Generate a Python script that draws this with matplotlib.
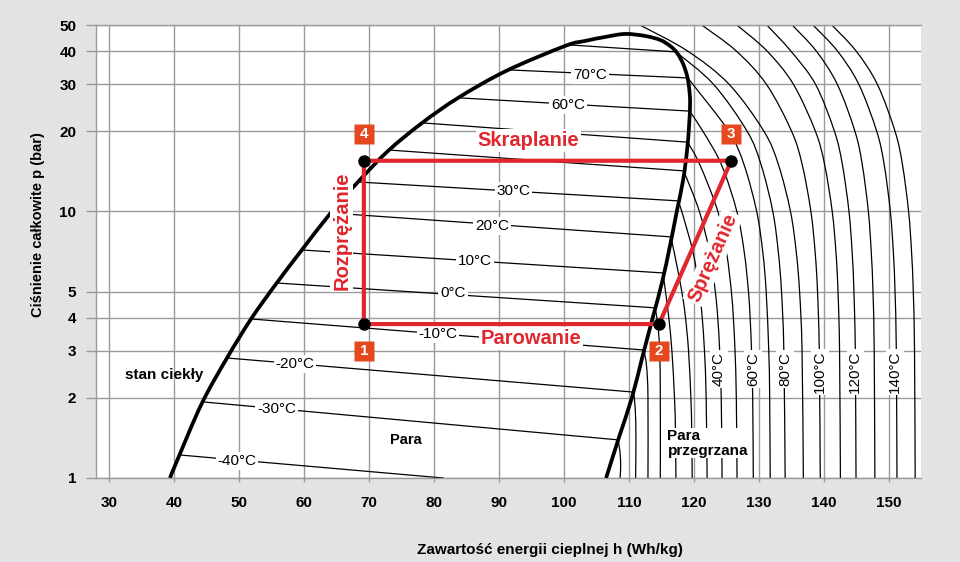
import numpy as np
import matplotlib.pyplot as plt
from matplotlib.path import Path
from matplotlib.patches import PathPatch
from matplotlib.transforms import offset_copy

plt.rcParams['font.family'] = ['Liberation Sans', 'DejaVu Sans']

# saturation dome, h in Wh/kg, p in bar
liquid_h = [39.38, 40.77, 44.31, 48.15, 51.85, 55.69, 59.54, 63.85, 68.15, 72.92, 78.15, 83.69,
            91.08, 100.15, 103.23, 106.31, 109.38]
liquid_p = [1.0, 1.209, 1.912, 2.82, 3.951, 5.346, 7.107, 9.703, 12.79, 16.87, 21.48, 26.67,
            33.67, 41.78, 43.63, 45.16, 46.35]
vapour_h = [112.46, 114.77, 116.31, 117.38, 118.31, 118.92, 119.23, 119.38, 119.23, 118.92,
            118.31, 117.38, 116.31, 115.08, 113.54, 112.0, 110.46, 108.46, 106.46]
vapour_p = [45.55, 44.01, 41.78, 39.33, 35.77, 32.24, 29.07, 25.53, 21.12, 17.01,
            13.13, 10.13, 7.486, 5.438, 3.917, 2.82, 2.013, 1.425, 1.0]

# isotherms inside the dome (liquid side -> vapour side)
wet_temps = [-40, -30, -20, -10, 0, 10, 20, 30, 40, 50, 60, 70, 80]
wet_h0 = [40.85, 44.4, 48.15, 51.85, 55.8, 59.65, 64.15, 68.3, 73.1, 78.15, 83.7, 91.2, 100.6]
wet_p0 = [1.22, 1.93, 2.82, 3.95, 5.39, 7.17, 9.87, 12.9, 17.0, 21.5, 26.7, 34.0, 42.2]
wet_h1 = [81.4, 108.3, 110.7, 112.3, 113.97, 115.2, 116.4, 117.5, 118.4, 119.0, 119.3, 119.0, 117.2]
wet_p1 = [1.0, 1.39, 2.10, 3.02, 4.35, 5.88, 8.03, 10.96, 14.2, 18.2, 23.8, 31.7, 39.7]

# superheated isotherms (h, p)
sh_m30 = [(108.3, 1.39), (108.6, 1.25), (108.7, 1.1), (108.6, 1.0)]
sh_m20 = [(110.7, 2.1), (110.95, 1.8), (111.05, 1.4), (111.0, 1.0)]
sh_m10 = [(112.3, 3.02), (112.7, 2.6), (112.9, 2.0), (112.9, 1.0)]
sh_0 = [(113.97, 4.35), (114.4, 3.8), (114.7, 3.0), (114.8, 2.0), (114.8, 1.0)]
sh_10 = [(115.2, 5.88), (115.6, 5), (116.1, 4), (116.58, 3), (116.98, 2), (117.13, 1.5), (117.2, 1)]
sh_20 = [(116.4, 8.03), (116.95, 7), (118.11, 5), (118.67, 4), (119.14, 3), (119.5, 2), (119.63, 1.5), (119.7, 1)]
sh_30 = [(117.5, 10.96), (118.1, 10), (119.85, 7), (120.83, 5), (121.24, 4), (121.59, 3), (121.85, 2), (122.0, 1)]
sh_40 = [(118.4, 14.2), (120.81, 10), (122.4, 7), (123.26, 5), (123.63, 4), (123.93, 3), (124.17, 2), (124.3, 1)]
sh_50 = [(119.0, 18.2), (120.87, 15), (123.65, 10), (124.99, 7), (125.73, 5), (126.03, 4), (126.29, 3), (126.49, 2), (126.6, 1)]
sh_60 = [(119.3, 23.8), (121.35, 20), (124.19, 15), (126.57, 10), (127.72, 7), (128.36, 5), (128.61, 4), (128.83, 3), (129.01, 2), (129.1, 1)]
sh_70 = [(119.0, 31.7), (119.8, 30), (125.32, 20), (127.67, 15), (129.62, 10), (130.57, 7), (131.08, 5), (131.48, 3), (131.62, 2), (131.7, 1)]
sh_80 = [(117.2, 39.7), (122.98, 30), (128.15, 20), (130.29, 15), (132.1, 10), (132.96, 7), (133.44, 5), (133.8, 3), (134.0, 1)]
sh_90 = [(111.7, 50), (118.98, 40), (125.38, 30), (130.73, 20), (132.96, 15), (134.82, 10), (135.72, 7), (136.22, 5), (136.6, 3), (136.8, 1)]
sh_100 = [(121.2, 50), (126.48, 40), (131.12, 30), (134.99, 20), (136.62, 15), (137.96, 10), (138.62, 7), (138.98, 5), (139.25, 3), (139.4, 1)]
sh_110 = [(126.6, 50), (131.21, 40), (135.27, 30), (138.65, 20), (140.07, 15), (141.24, 10), (141.82, 7), (142.13, 5), (142.37, 3), (142.5, 1)]
sh_120 = [(131.2, 50), (134.87, 40), (138.67, 30), (141.58, 20), (142.8, 15), (143.82, 10), (144.31, 7), (144.58, 5), (144.79, 3), (144.9, 1)]
sh_130 = [(135.1, 50), (138.78, 40), (142.02, 30), (144.73, 20), (145.86, 15), (146.8, 10), (147.25, 7), (147.51, 5), (147.7, 3), (147.8, 1)]
sh_140 = [(138.3, 50), (142.04, 40), (145.33, 30), (148.08, 20), (149.23, 15), (150.18, 10), (150.65, 7), (150.9, 5), (151.1, 3), (151.2, 1)]
sh_150 = [(141.2, 50), (144.91, 40), (148.18, 30), (150.9, 20), (152.04, 15), (152.99, 10), (153.45, 7), (153.71, 5), (153.9, 3), (154.0, 1)]
superheated = [sh_m30, sh_m20, sh_m10, sh_0, sh_10, sh_20, sh_30, sh_40, sh_50,
               sh_60, sh_70, sh_80, sh_90, sh_100, sh_110, sh_120, sh_130, sh_140, sh_150]

# refrigeration cycle 1-2-3-4
cycle_h = [69.2, 114.6, 125.7, 69.2]
cycle_p = [3.78, 3.78, 15.5, 15.5]
cycle_names = ['1', '2', '3', '4']

x_ticks = [30, 40, 50, 60, 70, 80, 90, 100, 110, 120, 130, 140, 150]
y_ticks = [1, 2, 3, 4, 5, 10, 20, 30, 40, 50]

RED = '#e1262d'
BOX = '#e5471f'
GRID = '#9a9a9a'


def smooth_curve(ax, hs, ps, **kw):
    # draw a smooth curve through the read points (Bezier segments, log-p space)
    x = np.asarray(hs, float)
    y = np.log10(np.asarray(ps, float))
    n = len(x)
    verts = [(x[0], y[0])]
    codes = [Path.MOVETO]
    for i in range(n - 1):
        xa, ya = (x[i - 1], y[i - 1]) if i > 0 else (x[i], y[i])
        xb, yb = (x[i + 2], y[i + 2]) if i + 2 < n else (x[i + 1], y[i + 1])
        verts.append((x[i] + (x[i + 1] - xa) / 6, y[i] + (y[i + 1] - ya) / 6))
        verts.append((x[i + 1] - (xb - x[i]) / 6, y[i + 1] - (yb - y[i]) / 6))
        verts.append((x[i + 1], y[i + 1]))
        codes += [Path.CURVE4] * 3
    verts = [(vx, 10 ** vy) for vx, vy in verts]
    ax.add_patch(PathPatch(Path(verts, codes), fill=False, **kw))


fig = plt.figure(figsize=(9.6, 5.62), dpi=100, facecolor='#e2e3e5')
ax = fig.add_axes([0.1, 0.1495, 0.8594, 0.8057])
ax.set_facecolor('white')
ax.set_yscale('log')
ax.set_xlim(28, 154.9)
ax.set_ylim(1, 50)

ax.set_xticks(x_ticks)
ax.set_xticklabels([str(v) for v in x_ticks])
ax.set_yticks(y_ticks)
ax.set_yticklabels([str(v) for v in y_ticks])
ax.yaxis.set_minor_locator(plt.NullLocator())
ax.grid(True, color=GRID, lw=1.0, zorder=0)
ax.set_axisbelow(True)
for s in ['top', 'bottom', 'left']:
    ax.spines[s].set_color(GRID)
    ax.spines[s].set_linewidth(1.0)
ax.spines['right'].set_visible(False)
ax.tick_params(axis='y', length=7.2, width=1.0, color=GRID, pad=7, labelsize=11)
ax.tick_params(axis='x', length=3, width=1.0, color=GRID, pad=10, labelsize=11)
for lab in ax.get_xticklabels() + ax.get_yticklabels():
    lab.set_fontweight('bold')

ax.set_xlabel('Zawartość energii cieplnej h (Wh/kg)', fontsize=11, fontweight='bold')
ax.xaxis.set_label_coords(0.55, -0.143)
ax.set_ylabel('Ciśnienie całkowite p (bar)', fontsize=10.5, fontweight='bold')
ax.yaxis.set_label_coords(-0.062, 0.56)

# isotherms
for i in range(len(wet_temps)):
    ax.plot([wet_h0[i], wet_h1[i]], [wet_p0[i], wet_p1[i]], color='black', lw=0.9, zorder=2)
for curve in superheated:
    smooth_curve(ax, [c[0] for c in curve], [c[1] for c in curve],
                 edgecolor='black', lw=0.9, zorder=2)

# saturation dome
smooth_curve(ax, liquid_h + vapour_h, liquid_p + vapour_p, edgecolor='black', lw=2.7,
             zorder=3, capstyle='butt', joinstyle='round')

# isotherm labels
wb = dict(boxstyle='square,pad=0.12', fc='white', ec='none')
wet_labels = [('70°C', 104.0, 32.6), ('60°C', 100.6, 25.1), ('30°C', 92.2, 11.9),
              ('20°C', 88.9, 8.81), ('10°C', 86.3, 6.52), ('0°C', 82.9, 4.94),
              ('-10°C', 80.6, 3.47), ('-20°C', 58.6, 2.68), ('-30°C', 55.8, 1.81),
              ('-40°C', 49.7, 1.16)]
for txt, h, p in wet_labels:
    ax.text(h, p, txt, fontsize=11, ha='center', va='center', bbox=wb, zorder=5)
sh_labels = [('40°C', 123.8, 2.56), ('60°C', 129.1, 2.56), ('80°C', 134.0, 2.56),
             ('100°C', 139.4, 2.50), ('120°C', 144.8, 2.50), ('140°C', 150.9, 2.50)]
for txt, h, p in sh_labels:
    ax.text(h, p, txt, fontsize=11, ha='center', va='center', rotation=90, bbox=wb, zorder=5)

# cycle
ax.plot(cycle_h + [cycle_h[0]], cycle_p + [cycle_p[0]], color=RED, lw=3, zorder=6,
        solid_joinstyle='miter')
ax.plot(cycle_h, cycle_p, 'o', color='black', ms=8, zorder=7)
for h, p, name in zip(cycle_h, cycle_p, cycle_names):
    dy = -27 if name in ('1', '2') else 27
    tr = offset_copy(ax.transData, fig=fig, x=0, y=dy, units='dots')
    ax.plot([h], [p], marker='s', ms=14.5, color=BOX, mec='none', transform=tr, zorder=8)
    ax.text(h, p, name, transform=tr, ha='center', va='center', color='white',
            fontsize=11, fontweight='bold', zorder=9)

rb = dict(boxstyle='square,pad=0.1', fc='white', ec='none')
ax.text(94.5, 18.4, 'Skraplanie', color=RED, fontsize=14.5, fontweight='bold', ha='center', va='center', bbox=rb, zorder=5)
ax.text(94.9, 3.35, 'Parowanie', color=RED, fontsize=14.5, fontweight='bold', ha='center', va='center', bbox=rb, zorder=5)
ax.text(65.8, 8.5, 'Rozprężanie', color=RED, fontsize=14.5, fontweight='bold', ha='center', va='center',
        rotation=90, bbox=rb, zorder=5)
ax.text(122.9, 6.7, 'Sprężanie', color=RED, fontsize=14.5, fontweight='bold', ha='center', va='center',
        rotation=66, rotation_mode='anchor', bbox=rb, zorder=5)

ax.text(38.5, 2.44, 'stan ciekły', fontsize=11, fontweight='bold', ha='center', va='center', zorder=5)
ax.text(75.7, 1.39, 'Para', fontsize=10.5, fontweight='bold', ha='center', va='center', zorder=5)
ax.text(115.9, 1.35, 'Para\nprzegrzana', fontsize=11, fontweight='bold', ha='left', va='center',
        linespacing=1.05, bbox=dict(boxstyle='square,pad=0.05', fc='white', ec='none'), zorder=5)

fig.savefig('out.png', dpi=100, facecolor=fig.get_facecolor())
